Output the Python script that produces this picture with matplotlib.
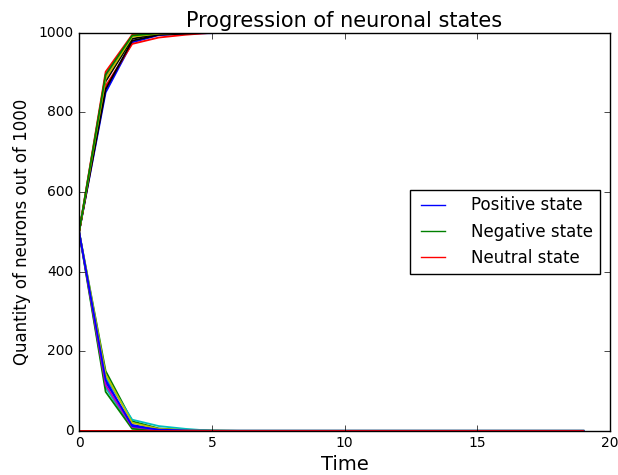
import matplotlib
matplotlib.use("Agg")
import matplotlib.pyplot as plt

time = list(range(20))

# Each run: (up-going state, down-going state, state that stays at zero)
run0_up   = [500, 850, 976, 994, 998, 999, 1000, 1000, 1000, 1000, 1000, 1000, 1000, 1000, 1000, 1000, 1000, 1000, 1000, 1000]
run0_down = [500, 150, 24, 6, 2, 1, 0, 0, 0, 0, 0, 0, 0, 0, 0, 0, 0, 0, 0, 0]
run1_up   = [500, 892, 992, 999, 1000, 1000, 1000, 1000, 1000, 1000, 1000, 1000, 1000, 1000, 1000, 1000, 1000, 1000, 1000, 1000]
run1_down = [500, 108, 8, 1, 0, 0, 0, 0, 0, 0, 0, 0, 0, 0, 0, 0, 0, 0, 0, 0]
run2_up   = [500, 878, 985, 997, 999, 1000, 1000, 1000, 1000, 1000, 1000, 1000, 1000, 1000, 1000, 1000, 1000, 1000, 1000, 1000]
run2_down = [500, 122, 15, 3, 1, 0, 0, 0, 0, 0, 0, 0, 0, 0, 0, 0, 0, 0, 0, 0]
run3_up   = [500, 866, 972, 988, 995, 1000, 1000, 1000, 1000, 1000, 1000, 1000, 1000, 1000, 1000, 1000, 1000, 1000, 1000, 1000]
run3_down = [500, 134, 28, 12, 5, 0, 0, 0, 0, 0, 0, 0, 0, 0, 0, 0, 0, 0, 0, 0]
run4_up   = [500, 858, 980, 995, 998, 1000, 1000, 1000, 1000, 1000, 1000, 1000, 1000, 1000, 1000, 1000, 1000, 1000, 1000, 1000]
run4_down = [500, 142, 20, 5, 2, 0, 0, 0, 0, 0, 0, 0, 0, 0, 0, 0, 0, 0, 0, 0]
run5_up   = [500, 902, 995, 999, 1000, 1000, 1000, 1000, 1000, 1000, 1000, 1000, 1000, 1000, 1000, 1000, 1000, 1000, 1000, 1000]
run5_down = [500, 98, 5, 1, 0, 0, 0, 0, 0, 0, 0, 0, 0, 0, 0, 0, 0, 0, 0, 0]
run6_up   = [500, 885, 990, 998, 1000, 1000, 1000, 1000, 1000, 1000, 1000, 1000, 1000, 1000, 1000, 1000, 1000, 1000, 1000, 1000]
run6_down = [500, 115, 10, 2, 0, 0, 0, 0, 0, 0, 0, 0, 0, 0, 0, 0, 0, 0, 0, 0]
run7_up   = [500, 895, 993, 999, 1000, 1000, 1000, 1000, 1000, 1000, 1000, 1000, 1000, 1000, 1000, 1000, 1000, 1000, 1000, 1000]
run7_down = [500, 128, 12, 3, 1, 0, 0, 0, 0, 0, 0, 0, 0, 0, 0, 0, 0, 0, 0, 0]
zero_state = [0] * 20

# order of (positive, negative, neutral) series per run
runs = [
    (run0_up, run0_down, zero_state),
    (run1_down, run1_up, zero_state),
    (run2_up, run2_down, zero_state),
    (run3_up, run3_down, zero_state),
    (run4_down, run4_up, zero_state),
    (run5_down, run5_up, zero_state),
    (run6_down, run6_up, zero_state),
    (run7_down, run7_up, zero_state),
]
labels = ["Positive state", "Negative state", "Neutral state"]

plt.style.use("classic")
fig = plt.figure(figsize=(6.18, 4.75), dpi=100, facecolor="white")
ax = fig.add_axes([0.128, 0.093, 0.859, 0.838])

for i, (pos, neg, neu) in enumerate(runs):
    if i == 0:
        ax.plot(time, pos, label=labels[0], lw=1.3)
        ax.plot(time, neg, label=labels[1], lw=1.3)
        ax.plot(time, neu, label=labels[2], lw=1.3)
    else:
        ax.plot(time, pos, lw=1.3)
        ax.plot(time, neg, lw=1.3)
        ax.plot(time, neu, lw=1.3)

ax.set_xlim(0, 20)
ax.set_ylim(0, 1000)
ax.tick_params(labelsize=10)
ax.set_xlabel("Time", fontsize=14, labelpad=3)
ax.set_ylabel("Quantity of neurons out of 1000", fontsize=12)
ax.set_title("Progression of neuronal states", fontsize=15, pad=4)
leg = ax.legend(loc="center right", fontsize=12, handletextpad=1.3,
                borderaxespad=0.6)
for line in leg.get_lines():
    line.set_linewidth(1.0)

fig.savefig("out.png", dpi=100, facecolor="white")
